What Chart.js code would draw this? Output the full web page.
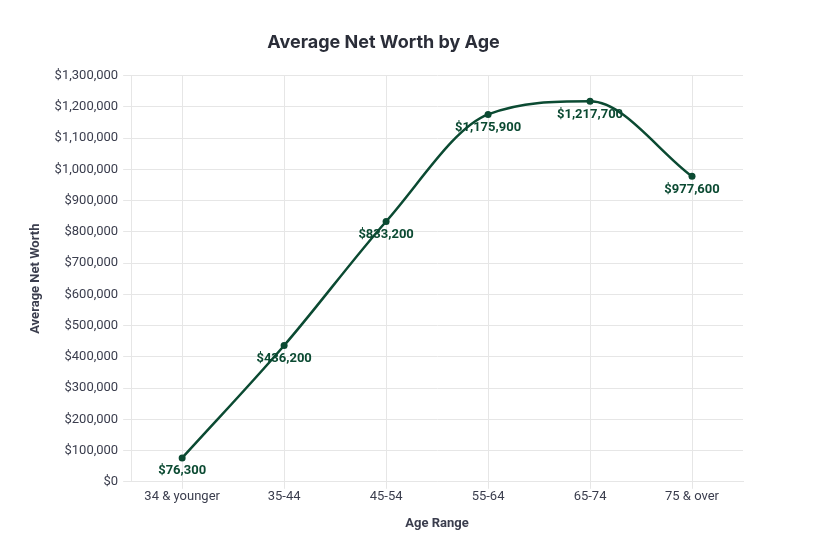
<!DOCTYPE html>
<html>
<head>
<meta charset="utf-8">
<script src="https://cdn.jsdelivr.net/npm/chart.js@4"></script>
<style>
  html, body { margin: 0; padding: 0; background: #fff; }
  #wrap { width: 818px; height: 540px; }
</style>
</head>
<body>
<div id="wrap"><canvas id="myChart" width="818" height="540"></canvas></div>
<script>
const ageRanges = ['34 & younger', '35-44', '45-54', '55-64', '65-74', '75 & over'];
const netWorth = [76300, 436200, 833200, 1175900, 1217700, 977600];

const lineColor = '#0b4a32';
const textColor = '#3a3d4d';

function money(v) {
    return '$' + Number(v).toLocaleString('en-US');
}

// draws the value under each point
const pointLabels = {
    id: 'pointLabels',
    afterDatasetsDraw(chart) {
        const ctx = chart.ctx;
        const meta = chart.getDatasetMeta(0);
        ctx.save();
        ctx.font = 'bold 13px Roboto';
        ctx.fillStyle = lineColor;
        ctx.textAlign = 'center';
        ctx.textBaseline = 'middle';
        meta.data.forEach((pt, i) => {
            ctx.fillText(money(netWorth[i]), pt.x, pt.y + 13);
        });
        ctx.restore();
    }
};

function buildGraphic() {
    const ctx = document.getElementById('myChart').getContext('2d');

    const data = {
        labels: ageRanges,
        datasets: [{
            label: 'Average Net Worth',
            data: netWorth,
            borderColor: lineColor,
            backgroundColor: lineColor,
            borderWidth: 2.5,
            pointRadius: 3.5,
            pointBackgroundColor: lineColor,
            pointBorderWidth: 0,
            cubicInterpolationMode: 'monotone'
        }]
    };

    const config = {
        type: 'line',
        data: data,
        plugins: [pointLabels],
        options: {
            responsive: false,
            animation: false,
            layout: {
                padding: { left: 24, right: 75, top: 12, bottom: 4 }
            },
            plugins: {
                legend: { display: false },
                tooltip: { enabled: false },
                title: {
                    display: true,
                    text: 'Average Net Worth by Age',
                    color: '#2a2d38',
                    font: { family: 'Inter', size: 18, weight: 'bold' },
                    padding: { top: 20, bottom: 22 }
                }
            },
            scales: {
                x: {
                    offset: true,
                    grid: { color: '#e6e6e6', offset: false, tickLength: 7 },
                    border: { color: '#e6e6e6' },
                    ticks: {
                        color: textColor,
                        font: { family: 'Roboto', size: 13 },
                        padding: 0
                    },
                    title: {
                        display: true,
                        text: 'Age Range',
                        color: textColor,
                        font: { family: 'Roboto', size: 13, weight: 'bold' },
                        padding: { top: 12 }
                    }
                },
                y: {
                    min: 0,
                    max: 1300000,
                    grid: { color: '#e6e6e6' },
                    border: { color: '#e6e6e6' },
                    ticks: {
                        stepSize: 100000,
                        color: textColor,
                        font: { family: 'Roboto', size: 13 },
                        padding: 5,
                        callback: v => money(v)
                    },
                    title: {
                        display: true,
                        text: 'Average Net Worth',
                        color: textColor,
                        font: { family: 'Roboto', size: 13, weight: 'bold' },
                        padding: { bottom: 6 }
                    }
                }
            }
        }
    };

    const myChart = new Chart(ctx, config);
}

buildGraphic();
</script>
</body>
</html>
